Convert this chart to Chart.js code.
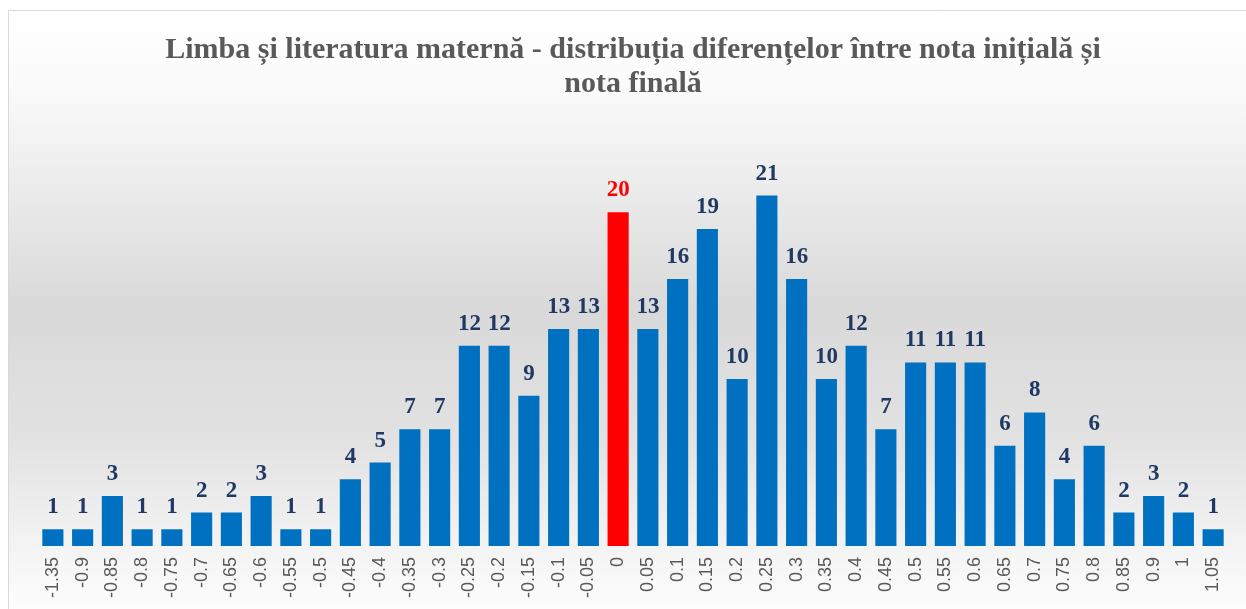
<!DOCTYPE html>
<html>
<head>
<meta charset="utf-8">
<script src="https://cdn.jsdelivr.net/npm/chart.js@4.4.1/dist/chart.umd.min.js"></script>
<style>
html,body{margin:0;padding:0;background:#fff;}
#wrap{position:absolute;left:0;top:0;width:1246px;height:609px;}
</style>
</head>
<body>
<div id="wrap"><canvas id="c" width="1246" height="609"></canvas></div>
<script>
const categories = ["-1.35","-0.9","-0.85","-0.8","-0.75","-0.7","-0.65","-0.6","-0.55","-0.5","-0.45","-0.4","-0.35","-0.3","-0.25","-0.2","-0.15","-0.1","-0.05","0","0.05","0.1","0.15","0.2","0.25","0.3","0.35","0.4","0.45","0.5","0.55","0.6","0.65","0.7","0.75","0.8","0.85","0.9","1","1.05"];
const counts = [1,1,3,1,1,2,2,3,1,1,4,5,7,7,12,12,9,13,13,20,13,16,19,10,21,16,10,12,7,11,11,11,6,8,4,6,2,3,2,1];
const highlightCategory = "0";
const titleLines = ["Limba și literatura maternă - distribuția diferențelor între nota inițială și","nota finală"];

const blue = "#0070C0", red = "#FF0000";
const barColors = categories.map(c => c === highlightCategory ? red : blue);
const labelColors = categories.map(c => c === highlightCategory ? red : "#1F3864");

const bgPlugin = {
  id: 'bg',
  beforeDraw(chart) {
    const {ctx, width, height} = chart;
    ctx.save();
    const g = ctx.createLinearGradient(0, 10, 0, height);
    g.addColorStop(0, '#ffffff');
    g.addColorStop(0.12, '#fbfbfb');
    g.addColorStop(0.3, '#ebebeb');
    g.addColorStop(0.5, '#d9d9d9');
    g.addColorStop(0.72, '#e2e2e2');
    g.addColorStop(0.88, '#f2f2f2');
    g.addColorStop(1, '#fdfdfd');
    ctx.fillStyle = g;
    ctx.fillRect(8, 10, width - 8, height - 10);
    ctx.strokeStyle = '#d9d9d9';
    ctx.lineWidth = 1;
    ctx.beginPath();
    ctx.moveTo(8.5, height);
    ctx.lineTo(8.5, 10.5);
    ctx.lineTo(width, 10.5);
    ctx.stroke();
    ctx.restore();
  }
};

const labelPlugin = {
  id: 'vals',
  afterDatasetsDraw(chart) {
    const {ctx} = chart;
    const meta = chart.getDatasetMeta(0);
    ctx.save();
    ctx.font = 'bold 23px "Liberation Serif", serif';
    ctx.textAlign = 'center';
    ctx.textBaseline = 'alphabetic';
    meta.data.forEach((bar, i) => {
      ctx.fillStyle = labelColors[i];
      ctx.fillText(String(counts[i]), bar.x, bar.y - 16);
    });
    ctx.restore();
  }
};

new Chart(document.getElementById('c'), {
  type: 'bar',
  data: {
    labels: categories,
    datasets: [{
      data: counts,
      backgroundColor: barColors,
      borderWidth: 0,
      barPercentage: 0.71,
      categoryPercentage: 1.0
    }]
  },
  options: {
    responsive: false,
    animation: false,
    devicePixelRatio: 1,
    layout: { padding: { left: 38, right: 18, top: 0, bottom: 0 } },
    plugins: {
      legend: { display: false },
      tooltip: { enabled: false },
      title: {
        display: true,
        text: titleLines,
        color: '#595959',
        font: { family: '"Liberation Serif", serif', size: 30, weight: 'bold', lineHeight: 1.13 },
        padding: { top: 33, bottom: 28 }
      }
    },
    scales: {
      x: {
        grid: { display: false, drawTicks: false },
        border: { display: true, color: '#f0f0f0' },
        ticks: {
          color: '#595959',
          font: { family: '"Liberation Sans", sans-serif', size: 18 },
          minRotation: 90, maxRotation: 90,
          autoSkip: false,
          padding: 11
        }
      },
      y: {
        display: false,
        min: 0, max: 25
      }
    }
  },
  plugins: [bgPlugin, labelPlugin]
});
</script>
</body>
</html>
